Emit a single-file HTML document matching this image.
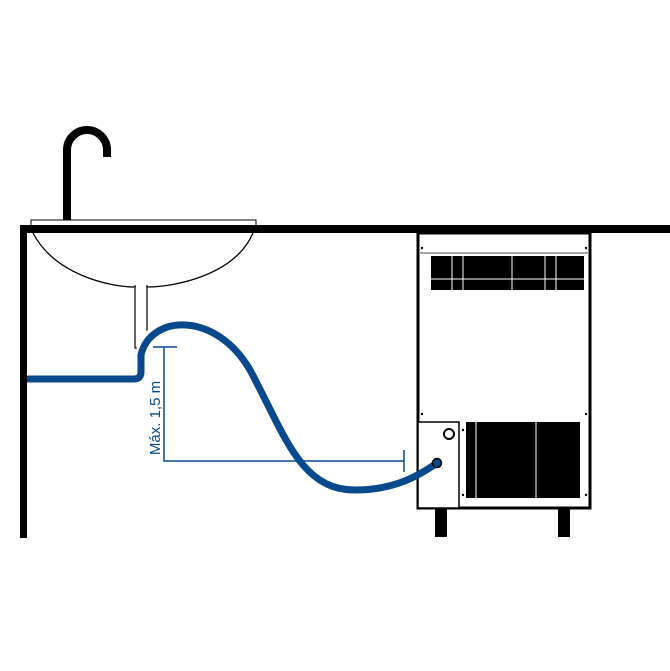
<!DOCTYPE html>
<html><head><style>body{margin:0;background:#fff}svg{display:block}</style></head><body>
<svg width="670" height="671" viewBox="0 0 670 671" xmlns="http://www.w3.org/2000/svg">
<rect width="670" height="671" fill="#fff"/>
<path d="M67 222 V150 A20 20 0 0 1 107 150 V157" fill="none" stroke="#000" stroke-width="8"/>
<rect x="31" y="220" width="225" height="6" fill="#fff" stroke="#000" stroke-width="1"/>
<rect x="20" y="225" width="650" height="8" fill="#000"/>
<rect x="20" y="225" width="7" height="313" fill="#000"/>
<path d="M33 233 C55 275 110 287 135 287 H147 C175 287 235 275 253 233" fill="#fff" stroke="#000" stroke-width="1.3"/>
<rect x="135" y="286" width="12" height="62" fill="#fff" stroke="#000" stroke-width="1.2"/>
<rect x="136" y="285" width="10" height="3" fill="#fff"/>
<g stroke="#08498d" stroke-width="1.5" fill="none">
<path d="M153 347 H177 M164 347 V461 H404 M404 450 V472"/>
</g>
<text transform="translate(160 418) rotate(-90)" text-anchor="middle" font-family="Liberation Sans, sans-serif" font-size="15" fill="#08498d">Máx. 1,5 m</text>
<rect x="418" y="233" width="172" height="275" fill="#fff" stroke="#000" stroke-width="3"/>
<line x1="419" y1="253" x2="589" y2="253" stroke="#888" stroke-width="1.5"/>
<rect x="431" y="256" width="153" height="34" fill="#000"/>
<g stroke="#fff" stroke-width="1"><line x1="431" y1="279" x2="584" y2="279"/><line x1="452" y1="256" x2="452" y2="290"/><line x1="463" y1="256" x2="463" y2="290"/><line x1="512" y1="256" x2="512" y2="290"/><line x1="545" y1="256" x2="545" y2="290"/><line x1="556" y1="256" x2="556" y2="290"/></g>
<rect x="418" y="422" width="41" height="86" fill="#fff" stroke="#000" stroke-width="1.5"/>
<circle cx="449" cy="434" r="5" fill="none" stroke="#000" stroke-width="2"/>
<rect x="466" y="422" width="114" height="76" fill="#000"/>
<g stroke="#fff" stroke-width="1"><line x1="476" y1="422" x2="476" y2="498"/><line x1="536" y1="422" x2="536" y2="498"/></g>
<g fill="#000"><circle cx="422" cy="248" r="1.2"/><circle cx="586" cy="248" r="1.2"/><circle cx="422" cy="414" r="1.2"/><circle cx="586" cy="414" r="1.2"/><circle cx="463" cy="430" r="1.2"/><circle cx="586" cy="495" r="1.2"/><circle cx="463" cy="495" r="1.2"/></g>
<rect x="435" y="509" width="12" height="28" fill="#000"/>
<rect x="558" y="509" width="12" height="28" fill="#000"/>
<path d="M27 379 H134 Q141 379 141 372 V355 C145 338 155 330 165 326" fill="none" stroke="#fff" stroke-width="12"/>
<path d="M27 379 H134 Q141 379 141 372 V355 C150 315 215 310 250 370 C285 435 300 490 355 490 C395 490 420 475 437 463" fill="none" stroke="#08498d" stroke-width="7"/>
<circle cx="437" cy="463" r="4.5" fill="#08498d" stroke="#000" stroke-width="1.5"/>
</svg>
</body></html>
